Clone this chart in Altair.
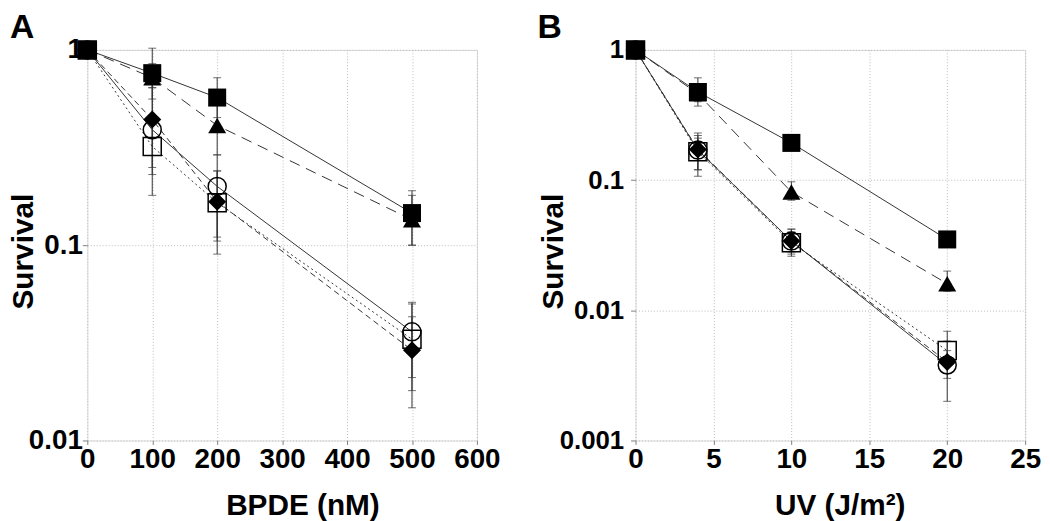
import altair as alt
import pandas as pd

FONT = "Liberation Sans"

# ---------------- data: panel A (BPDE) ----------------
bpde = [0, 100, 200, 500]
a_sq = [1.0, 0.76, 0.57, 0.146]
a_sq_lo = [1.0, 0.56, 0.45, 0.10]
a_sq_hi = [1.0, 1.02, 0.72, 0.19]
a_tri = [1.0, 0.72, 0.41, 0.135]
a_tri_lo = [1.0, 0.64, 0.29, 0.10]
a_tri_hi = [1.0, 0.85, 0.55, 0.18]
a_circ = [1.0, 0.39, 0.20, 0.036]
a_circ_lo = [1.0, 0.23, 0.105, 0.021]
a_circ_hi = [1.0, 0.69, 0.29, 0.051]
a_osq = [1.0, 0.32, 0.165, 0.033]
a_osq_lo = [1.0, 0.18, 0.09, 0.018]
a_osq_hi = [1.0, 0.46, 0.24, 0.050]
a_dia = [1.0, 0.44, 0.167, 0.029]
a_dia_lo = [1.0, 0.25, 0.11, 0.0147]
a_dia_hi = [1.0, 0.64, 0.24, 0.043]

# ---------------- data: panel B (UV) ----------------
uv = [0, 4, 10, 20]
b_sq = [1.0, 0.475, 0.193, 0.035]
b_sq_lo = [1.0, 0.37, 0.18, 0.033]
b_sq_hi = [1.0, 0.61, 0.21, 0.038]
b_tri = [1.0, 0.46, 0.081, 0.016]
b_tri_lo = [1.0, 0.40, 0.07, 0.014]
b_tri_hi = [1.0, 0.55, 0.097, 0.020]
b_circ = [1.0, 0.17, 0.034, 0.0038]
b_circ_lo = [1.0, 0.12, 0.028, 0.003]
b_circ_hi = [1.0, 0.22, 0.040, 0.0049]
b_osq = [1.0, 0.165, 0.033, 0.0049]
b_osq_lo = [1.0, 0.12, 0.027, 0.0039]
b_osq_hi = [1.0, 0.23, 0.042, 0.0069]
b_dia = [1.0, 0.172, 0.034, 0.004]
b_dia_lo = [1.0, 0.107, 0.026, 0.002]
b_dia_hi = [1.0, 0.21, 0.042, 0.0058]

a_x_ticks = [0, 100, 200, 300, 400, 500, 600]
b_x_ticks = [0, 5, 10, 15, 20, 25]
a_y_ticks = [0.01, 0.1, 1]
b_y_ticks = [0.001, 0.01, 0.1, 1]
panel_labels = ["A", "B"]
x_titles = ["BPDE (nM)", "UV (J/m²)"]
y_title = "Survival"

series_order = ["sq", "tri", "osq", "circ", "dia"]
style = {
    "sq": dict(shape="square", filled=True, dash=None),
    "tri": dict(shape="triangle-up", filled=True, dash=[11, 7]),
    "circ": dict(shape="circle", filled=False, dash=None),
    "osq": dict(shape="square", filled=False, dash=[2, 3]),
    "dia": dict(shape="diamond", filled=True, dash=[6, 4]),
}

A_DATA = {
    "sq": (a_sq, a_sq_lo, a_sq_hi), "tri": (a_tri, a_tri_lo, a_tri_hi),
    "circ": (a_circ, a_circ_lo, a_circ_hi), "osq": (a_osq, a_osq_lo, a_osq_hi),
    "dia": (a_dia, a_dia_lo, a_dia_hi),
}
B_DATA = {
    "sq": (b_sq, b_sq_lo, b_sq_hi), "tri": (b_tri, b_tri_lo, b_tri_hi),
    "circ": (b_circ, b_circ_lo, b_circ_hi), "osq": (b_osq, b_osq_lo, b_osq_hi),
    "dia": (b_dia, b_dia_lo, b_dia_hi),
}

W, H = 393, 394


def panel(xs, data, xdomain, xticks, ydomain, yticks, xtitle, label,
          ylab_size, ylab_pad, ytitle_x, xtitle_x, letter_x):
    xscale = alt.Scale(domain=xdomain, nice=False, zero=False)
    yscale = alt.Scale(type="log", domain=ydomain, nice=False)
    xaxis = alt.Axis(values=xticks, title=xtitle, format="d",
                     labelFont=FONT, labelFontSize=28, labelFontWeight="bold",
                     labelColor="black", labelPadding=1, labelFlush=False,
                     labelOverlap=False,
                     titleFont=FONT, titleFontSize=30, titleFontWeight="bold",
                     titleColor="black", titleX=xtitle_x, titleY=75,
                     titleBaseline="alphabetic",
                     tickSize=4, tickColor="#808080", domain=False,
                     grid=True, gridColor="#bbbbbb", gridDash=[1, 2], gridWidth=1)
    yaxis = alt.Axis(values=yticks, title=y_title, format="~g",
                     labelFont=FONT, labelFontSize=ylab_size, labelFontWeight="bold",
                     labelColor="black", labelPadding=ylab_pad, labelFlush=False,
                     labelOverlap=False,
                     titleFont=FONT, titleFontSize=30, titleFontWeight="bold",
                     titleColor="black", titleX=ytitle_x, titleY=203,
                     titleBaseline="alphabetic",
                     tickSize=5, tickColor="#808080", domain=False,
                     grid=True, gridColor="#bbbbbb", gridDash=[1, 2], gridWidth=1)

    def X(f="x"):
        return alt.X(f + ":Q", scale=xscale, axis=xaxis)

    def Y(f):
        return alt.Y(f + ":Q", scale=yscale, axis=yaxis)

    rows = []
    for s in series_order:
        v, lo, hi = data[s]
        for i, xv in enumerate(xs):
            rows.append(dict(series=s, x=xv, y=v[i], lo=lo[i], hi=hi[i]))
    df = pd.DataFrame(rows)

    layers = []
    # error bars
    for s in series_order:
        d = df[(df.series == s) & (df.x > 0)]
        base = alt.Chart(d)
        layers.append(base.mark_rule(color="#333333", strokeWidth=1).encode(
            x=X(), y=Y("lo"), y2="hi:Q"))
        for f in ("lo", "hi"):
            layers.append(base.mark_tick(orient="horizontal", color="#333333",
                                         size=8, thickness=1).encode(
                x=X(), y=Y(f)))
    # lines
    for s in series_order:
        d = df[df.series == s]
        kw = dict(color="#333333", strokeWidth=1)
        if style[s]["dash"]:
            kw["strokeDash"] = style[s]["dash"]
        layers.append(alt.Chart(d).mark_line(**kw).encode(x=X(), y=Y("y")))
    # markers
    for s in series_order:
        d = df[df.series == s]
        st = style[s]
        if st["filled"]:
            mk = dict(shape=st["shape"], filled=True, color="black", size=330,
                      opacity=1)
        else:
            mk = dict(shape=st["shape"], filled=False, color="black", size=330,
                      strokeWidth=1.5, opacity=1)
        layers.append(alt.Chart(d).mark_point(**mk).encode(x=X(), y=Y("y")))
    # panel letter
    lab = pd.DataFrame({"t": [label]})
    layers.append(alt.Chart(lab).mark_text(
        font=FONT, fontSize=34, fontWeight="bold", color="black",
        align="left", baseline="top").encode(
        text="t:N", x=alt.value(letter_x), y=alt.value(-39)))

    return alt.layer(*layers).properties(width=W, height=H)


pa = panel(bpde, A_DATA, [0, 600], a_x_ticks, [0.01, 1], a_y_ticks,
           x_titles[0], panel_labels[0], 28, 0, -55, 217, -78)
pb = panel(uv, B_DATA, [0, 25], b_x_ticks, [0.001, 1], b_y_ticks,
           x_titles[1], panel_labels[1], 26, 7, -74, 206, -99)

chart = alt.hconcat(pa, pb, spacing=160, bounds="flush").properties(
    padding=0
).configure_view(stroke="#808080", strokeWidth=1.5).configure(
    background="white")

chart.save("out.html", embed_options={"renderer": "svg", "actions": False})
